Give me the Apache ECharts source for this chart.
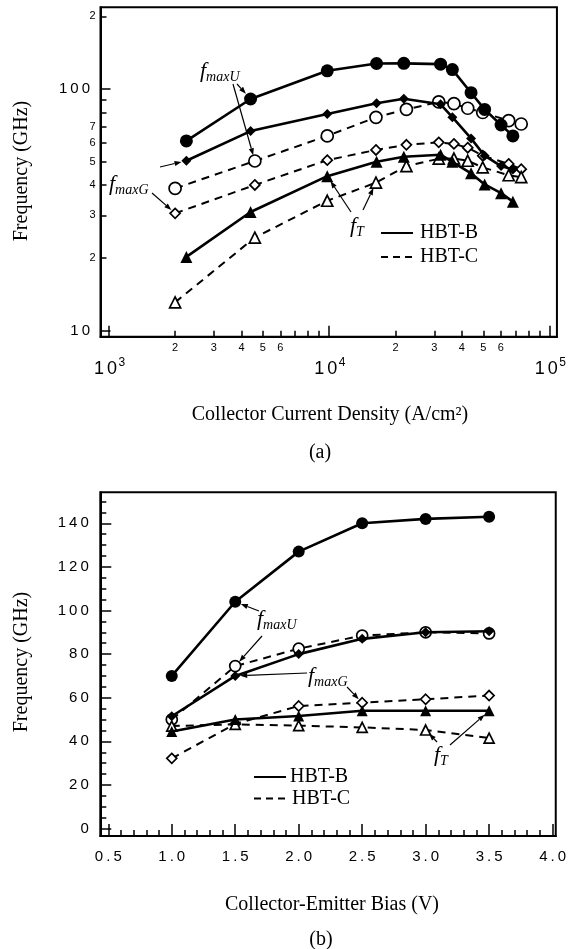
<!DOCTYPE html>
<html><head><meta charset="utf-8">
<script src="https://cdn.jsdelivr.net/npm/echarts@6/dist/echarts.min.js"></script>
<style>html,body{margin:0;padding:0;background:#fff}#c{width:569px;height:949px}</style>
</head><body><div id="c"></div>
<script>
// ===== (a) Frequency vs collector current density (log-log) =====
const jB = [2250, 4400, 9800, 16400, 21800, 32000, 36200, 44000, 50700, 60200, 68100];
const fmaxU_B_a = [61, 91, 119, 127.6, 127.8, 126.8, 120.4, 96.6, 82.4, 71, 64];
const fmaxG_B_a = [50.5, 67, 78.8, 87.3, 91.2, 86.5, 76.5, 62.5, 53, 48, 46.5];
const fT_B_a = [20.2, 31, 43.6, 50, 52.5, 53.5, 50, 44.8, 40.3, 37.1, 34.2];
const jC = [2000, 4600, 9800, 16300, 22400, 31400, 36800, 42500, 49700, 65200, 74300];
const fmaxU_C_a = [38.8, 50.4, 64, 76.4, 82.4, 88.5, 87, 83.3, 80, 74, 71.7];
const fmaxG_C_a = [30.6, 40.1, 50.8, 56, 58.8, 60.2, 59.3, 57.2, 53, 49, 46.6];
const fT_C_a = [13.1, 24.3, 34.5, 41, 48, 51.5, 51.6, 50.5, 47.4, 44, 43.2];

const xTicksMinorA = [2000,3000,4000,5000,6000,7000,8000,9000,20000,30000,40000,50000,60000,70000,80000,90000];
const xLabelsMinorA = [2000,3000,4000,5000,6000,20000,30000,40000,50000,60000];
const xLabelsMajorA = [1000,10000,100000];
const yTicksMinorA = [20,30,40,50,60,70,80,90,200];
const yLabelsMinorA = [20,30,40,50,60,70,200];
const yLabelsMajorA = [10,100];
const xRangeA = [917.5, 107900];
const yRangeA = [9.445, 218];

// ===== (b) Frequency vs collector-emitter bias =====
const vce = [1.0, 1.5, 2.0, 2.5, 3.0, 3.5];
const fmaxU_B_b = [70, 104, 127, 140, 142, 143];
const fmaxG_B_b = [51.5, 70, 80, 87, 90, 90.5];
const fT_B_b = [44.5, 50, 51.6, 54, 54, 54];
const fmaxU_C_b = [50, 74.5, 82.5, 88.5, 90, 89.5];
const fmaxG_C_b = [32.2, 48, 56.2, 57.7, 59.3, 61];
const fT_C_b = [47, 47.8, 47.2, 46.4, 45.2, 41.5];

const xLabelsB = [0.5,1.0,1.5,2.0,2.5,3.0,3.5,4.0];
const xTicksMinorB = [0.6,0.7,0.8,0.9,1.1,1.2,1.3,1.4,1.6,1.7,1.8,1.9,2.1,2.2,2.3,2.4,2.6,2.7,2.8,2.9,3.1,3.2,3.3,3.4,3.6,3.7,3.8,3.9];
const yLabelsB = [0,20,40,60,80,100,120,140];
const yTicksMinorB = [5,10,15,25,30,35,45,50,55,65,70,75,85,90,95,105,110,115,125,130,135,145,150];
const xRangeB = [0.437, 4.025];
const yRangeB = [-3.4, 154.2];

const SANS = '"Liberation Sans", Arial, sans-serif';
const SERIF = '"Liberation Serif", "Times New Roman", serif';
const L = v => Math.log10(v);
const P = v => Math.round(Math.pow(10, v) * 1000) / 1000;
const spaced = (s, st) => String(s).split('').map(c => '{' + st + '|' + c + '}').join('');
const lead = v => Math.round(v / Math.pow(10, Math.floor(Math.log10(v) + 1e-9)));

function ser(xs, ys, o) {
  const tx = o.log ? L : (v => v);
  return {
    type: 'line', xAxisIndex: o.xi, yAxisIndex: o.yi,
    data: xs.map((x, i) => [tx(x), tx(ys[i])]),
    symbol: o.symbol, symbolSize: o.size, showAllSymbol: true,
    lineStyle: { color: '#000', width: o.dashed ? 2 : 2.6, type: o.dashed ? [8, 6] : 'solid' },
    itemStyle: { color: o.filled ? '#000' : '#fff', borderColor: '#000', borderWidth: o.filled ? 0 : 1.7 },
    emphasis: { disabled: true }, silent: true, animation: false, z: o.z || 2
  };
}

const axLine = { show: true, onZero: false, lineStyle: { color: '#000', width: 2 } };
const noLine = { show: false, onZero: false };
const noSplit = { show: false };
const tickStyle = { color: '#000', width: 1.5 };

const option = {
  backgroundColor: '#fff',
  animation: false,
  grid: [
    { left: 100.5, right: 10.5, top: 7.3, height: 329.4, show: true, borderColor: '#000', borderWidth: 2, backgroundColor: 'transparent' },
    { left: 100.3, right: 9.7, top: 492.3, height: 343.7, show: true, borderColor: '#000', borderWidth: 2, backgroundColor: 'transparent' }
  ],
  xAxis: [
    { gridIndex: 0, type: 'value', position: 'bottom', min: L(xRangeA[0]), max: L(xRangeA[1]), axisLine: axLine, splitLine: noSplit,
      axisTick: { inside: true, length: 6, lineStyle: tickStyle, customValues: xTicksMinorA.map(L) },
      axisLabel: { customValues: xLabelsMinorA.map(L), margin: 6, color: '#000', fontFamily: SANS, fontSize: 11,
        formatter: v => String(lead(P(v))) } },
    { gridIndex: 0, type: 'value', position: 'bottom', offset: 0, min: L(xRangeA[0]), max: L(xRangeA[1]), axisLine: noLine, splitLine: noSplit,
      axisTick: { inside: true, length: 11, lineStyle: tickStyle, customValues: xLabelsMajorA.map(L) },
      axisLabel: { customValues: xLabelsMajorA.map(L), margin: 20, color: '#000',
        formatter: v => spaced('10', 'b') + '{s|' + Math.round(v) + '}',
        rich: { b: { fontFamily: SANS, fontSize: 18, lineHeight: 24, padding: [0, 1.5, 0, 1.5], color: '#000' },
                s: { fontFamily: SANS, fontSize: 12, lineHeight: 12, verticalAlign: 'top', color: '#000' } } } },
    { gridIndex: 1, type: 'value', position: 'bottom', min: xRangeB[0], max: xRangeB[1], axisLine: axLine, splitLine: noSplit,
      axisTick: { inside: true, length: 6, lineStyle: tickStyle, customValues: xTicksMinorB },
      axisLabel: { customValues: xLabelsB, margin: 13, color: '#000',
        formatter: v => spaced(v.toFixed(1), 'd'),
        rich: { d: { fontFamily: SANS, fontSize: 15, padding: [0, 1.5, 0, 1.5], color: '#000' } } } },
    { gridIndex: 1, type: 'value', position: 'bottom', offset: 0, min: xRangeB[0], max: xRangeB[1], axisLine: noLine, splitLine: noSplit,
      axisTick: { inside: true, length: 12, lineStyle: tickStyle, customValues: xLabelsB },
      axisLabel: { show: false } }
  ],
  yAxis: [
    { gridIndex: 0, type: 'value', position: 'left', min: L(yRangeA[0]), max: L(yRangeA[1]), axisLine: axLine, splitLine: noSplit,
      axisTick: { inside: true, length: 6, lineStyle: tickStyle, customValues: yTicksMinorA.map(L) },
      axisLabel: { customValues: yLabelsMinorA.map(L), margin: 5, color: '#000', fontFamily: SANS, fontSize: 11,
        formatter: v => String(lead(P(v))) } },
    { gridIndex: 0, type: 'value', position: 'left', offset: 0, min: L(yRangeA[0]), max: L(yRangeA[1]), axisLine: noLine, splitLine: noSplit,
      axisTick: { inside: true, length: 10, lineStyle: tickStyle, customValues: yLabelsMajorA.map(L) },
      axisLabel: { customValues: yLabelsMajorA.map(L), margin: 9, color: '#000',
        formatter: v => spaced(String(Math.round(P(v))), 'd'),
        rich: { d: { fontFamily: SANS, fontSize: 15, padding: [0, 1.5, 0, 1.5], color: '#000' } } } },
    { gridIndex: 1, type: 'value', position: 'left', min: yRangeB[0], max: yRangeB[1], axisLine: axLine, splitLine: noSplit,
      axisTick: { inside: true, length: 6, lineStyle: tickStyle, customValues: yTicksMinorB },
      axisLabel: { customValues: yLabelsB, margin: 10, color: '#000',
        formatter: v => spaced(String(v), 'd'),
        rich: { d: { fontFamily: SANS, fontSize: 15, padding: [0, 1.5, 0, 1.5], color: '#000' } } } },
    { gridIndex: 1, type: 'value', position: 'left', offset: 0, min: yRangeB[0], max: yRangeB[1], axisLine: noLine, splitLine: noSplit,
      axisTick: { inside: true, length: 11, lineStyle: tickStyle, customValues: yLabelsB },
      axisLabel: { show: false } }
  ],
  series: [
    ser(jC, fmaxU_C_a, { xi: 0, yi: 0, log: true, symbol: 'circle', size: 12, dashed: true }),
    ser(jC, fmaxG_C_a, { xi: 0, yi: 0, log: true, symbol: 'diamond', size: 10, dashed: true }),
    ser(jC, fT_C_a, { xi: 0, yi: 0, log: true, symbol: 'triangle', size: 11, dashed: true }),
    ser(jB, fmaxU_B_a, { xi: 0, yi: 0, log: true, symbol: 'circle', size: 13, filled: true, z: 3 }),
    ser(jB, fmaxG_B_a, { xi: 0, yi: 0, log: true, symbol: 'diamond', size: 10, filled: true, z: 3 }),
    ser(jB, fT_B_a, { xi: 0, yi: 0, log: true, symbol: 'triangle', size: 12, filled: true, z: 3 }),

    ser(vce, fmaxU_C_b, { xi: 2, yi: 2, symbol: 'circle', size: 11, dashed: true }),
    ser(vce, fmaxG_C_b, { xi: 2, yi: 2, symbol: 'diamond', size: 10, dashed: true }),
    ser(vce, fT_C_b, { xi: 2, yi: 2, symbol: 'triangle', size: 10, dashed: true }),
    ser(vce, fmaxU_B_b, { xi: 2, yi: 2, symbol: 'circle', size: 12, filled: true, z: 3 }),
    ser(vce, fmaxG_B_b, { xi: 2, yi: 2, symbol: 'diamond', size: 10, filled: true, z: 3 }),
    ser(vce, fT_B_b, { xi: 2, yi: 2, symbol: 'triangle', size: 11, filled: true, z: 3 })
  ]
};

const chart = echarts.init(document.getElementById('c'), null, { renderer: 'canvas' });
chart.setOption(option);

// ---- annotations ----
function px(gi, x, y) {
  return gi === 0 ? chart.convertToPixel({ xAxisIndex: 0, yAxisIndex: 0 }, [L(x), L(y)])
                  : chart.convertToPixel({ xAxisIndex: 2, yAxisIndex: 2 }, [x, y]);
}
function arrow(x1, y1, t, stop) {
  const tx = t[0], ty = t[1];
  const dx = tx - x1, dy = ty - y1, len = Math.hypot(dx, dy);
  const ux = dx / len, uy = dy / len;
  const x2 = tx - ux * stop, y2 = ty - uy * stop;
  const hl = 7, hw = 2.6;
  const bx = x2 - ux * hl, by = y2 - uy * hl;
  return [
    { type: 'line', z: 10, shape: { x1: x1, y1: y1, x2: bx, y2: by }, style: { stroke: '#000', lineWidth: 1.2 } },
    { type: 'polygon', z: 10, shape: { points: [[x2, y2], [bx - uy * hw, by + ux * hw], [bx + uy * hw, by - ux * hw]] }, style: { fill: '#000' } }
  ];
}
function ftext(x, y, sub) {
  return { type: 'text', z: 10, x: x, y: y,
    style: { text: '{f|f}{s|' + sub + '}', verticalAlign: 'middle', align: 'left',
      rich: { f: { fontFamily: SERIF, fontStyle: 'italic', fontSize: 22, lineHeight: 26, fill: '#000' },
              s: { fontFamily: SERIF, fontStyle: 'italic', fontSize: 14, lineHeight: 14, verticalAlign: 'bottom', fill: '#000' } } } };
}
function txt(x, y, s, rot) {
  return { type: 'text', z: 10, x: x, y: y, rotation: rot || 0,
    style: { text: s, fontFamily: SERIF, fontSize: 20, fill: '#000', align: 'center', verticalAlign: 'middle' } };
}
function legend(x, y, dashed, label, tx) {
  return [
    { type: 'line', z: 10, shape: { x1: x, y1: y, x2: x + 32, y2: y }, style: { stroke: '#000', lineWidth: 2, lineDash: dashed ? [7, 5] : null } },
    { type: 'text', z: 10, x: tx, y: y, style: { text: label, fontFamily: SERIF, fontSize: 20, fill: '#000', align: 'left', verticalAlign: 'middle' } }
  ];
}

const els = [];
// chart (a)
els.push(ftext(200, 71, 'maxU'));
els.push(...arrow(237, 84, px(0, jB[1], fmaxU_B_a[1]), 7));
els.push(...arrow(233, 84, px(0, jC[1], fmaxU_C_a[1]), 6));
els.push(ftext(109, 184, 'maxG'));
els.push(...arrow(160, 167, px(0, jB[0], fmaxG_B_a[0]), 5));
els.push(...arrow(152, 193, px(0, jC[0], fmaxG_C_a[0]), 5));
els.push(ftext(350, 226, 'T'));
els.push(...arrow(351, 212, px(0, jB[2], fT_B_a[2]), 6));
els.push(...arrow(363, 210, px(0, jC[3], fT_C_a[3]), 6));
els.push(...legend(381, 233, false, 'HBT-B', 420));
els.push(...legend(381, 257, true, 'HBT-C', 420));
els.push(txt(22, 171, 'Frequency (GHz)', Math.PI / 2));
els.push(txt(330, 415, 'Collector Current Density (A/cm²)'));
els.push(txt(320, 453, '(a)'));
// chart (b)
els.push(ftext(257, 619, 'maxU'));
els.push(...arrow(259, 611, px(1, vce[1], fmaxU_B_b[1]), 6));
els.push(...arrow(262, 636, px(1, vce[1], fmaxU_C_b[1]), 6));
els.push(ftext(308, 676, 'maxG'));
els.push(...arrow(307, 673, px(1, vce[1], fmaxG_B_b[1]), 5));
els.push(...arrow(347, 687, px(1, vce[3], fmaxG_C_b[3]), 5));
els.push(ftext(434, 755, 'T'));
els.push(...arrow(437, 742, px(1, vce[4], fT_C_b[4]), 5));
els.push(...arrow(450, 745, px(1, vce[5], fT_B_b[5]), 6));
els.push(...legend(254, 777, false, 'HBT-B', 290));
els.push(...legend(254, 798.5, true, 'HBT-C', 292));
els.push(txt(22, 662, 'Frequency (GHz)', Math.PI / 2));
els.push(txt(332, 905, 'Collector-Emitter Bias (V)'));
els.push(txt(321, 940, '(b)'));

chart.setOption({ graphic: { elements: els } });
</script>
</body></html>
